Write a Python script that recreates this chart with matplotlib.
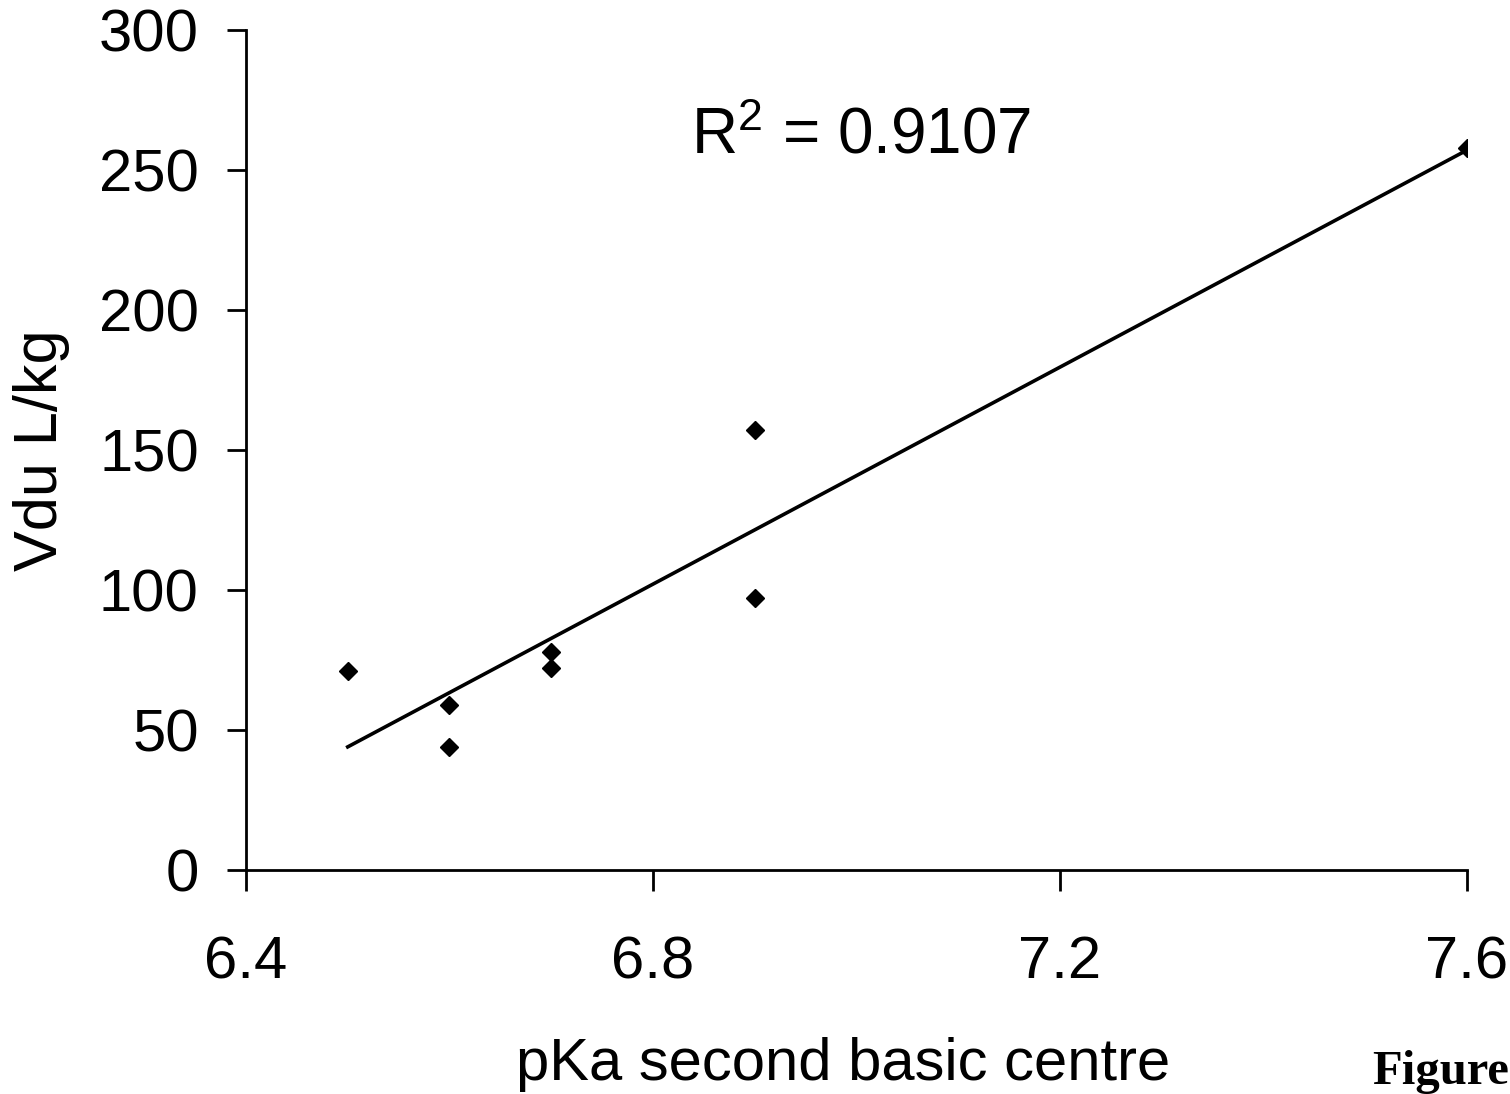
import numpy as np
import matplotlib
matplotlib.use('Agg')
import matplotlib.pyplot as plt

plt.rcParams['font.family'] = ['Liberation Sans', 'DejaVu Sans']
plt.rcParams['mathtext.fontset'] = 'custom'
plt.rcParams['mathtext.rm'] = 'Liberation Sans'
plt.rcParams['mathtext.it'] = 'Liberation Sans'

# values
pka = [6.5, 6.6, 6.6, 6.7, 6.7, 6.9, 6.9, 7.6]
vdu = [71, 59, 44, 78, 72, 157, 97, 258]
xticks = [6.4, 6.8, 7.2, 7.6]
yticks = [0, 50, 100, 150, 200, 250, 300]
r2_text = r'R$\mathregular{^2}$ = 0.9107'

fig = plt.figure(figsize=(15.1, 10.94), dpi=100)
ax = fig.add_axes([0.1629, 0.2048, 0.8086, 0.7678])

ax.plot(pka, vdu, linestyle='none', marker='D', ms=9, color='black')

# linear trendline through the data
slope, icpt = np.polyfit(pka, vdu, 1)
xs = np.array([min(pka), max(pka)])
ax.plot(xs, slope * xs + icpt, color='black', lw=2.6)

ax.set_xlim(6.4, 7.6)
ax.set_ylim(0, 300)
ax.set_xticks(xticks)
ax.set_xticklabels(['%.1f' % t for t in xticks])
ax.set_yticks(yticks)

for s in ['top', 'right']:
    ax.spines[s].set_visible(False)
for s in ['left', 'bottom']:
    ax.spines[s].set_linewidth(2)

ax.tick_params(axis='y', direction='out', length=14, width=2, pad=20, labelsize=43)
ax.tick_params(axis='x', direction='out', length=15, width=2, pad=32, labelsize=43)

ax.set_xlabel('pKa second basic centre', fontsize=43)
ax.xaxis.set_label_coords(0.489, -0.199)
ax.set_ylabel('Vdu L/kg', fontsize=44, labelpad=21)

ax.text(0.504, 0.873, r2_text, transform=ax.transAxes, fontsize=46,
        ha='center', va='center')

fig.text(0.9995, 0.0, 'Figure', fontsize=35, fontweight='bold',
         family=['Liberation Serif', 'DejaVu Serif'], ha='right', va='bottom')

fig.savefig('out.png', dpi=100)
